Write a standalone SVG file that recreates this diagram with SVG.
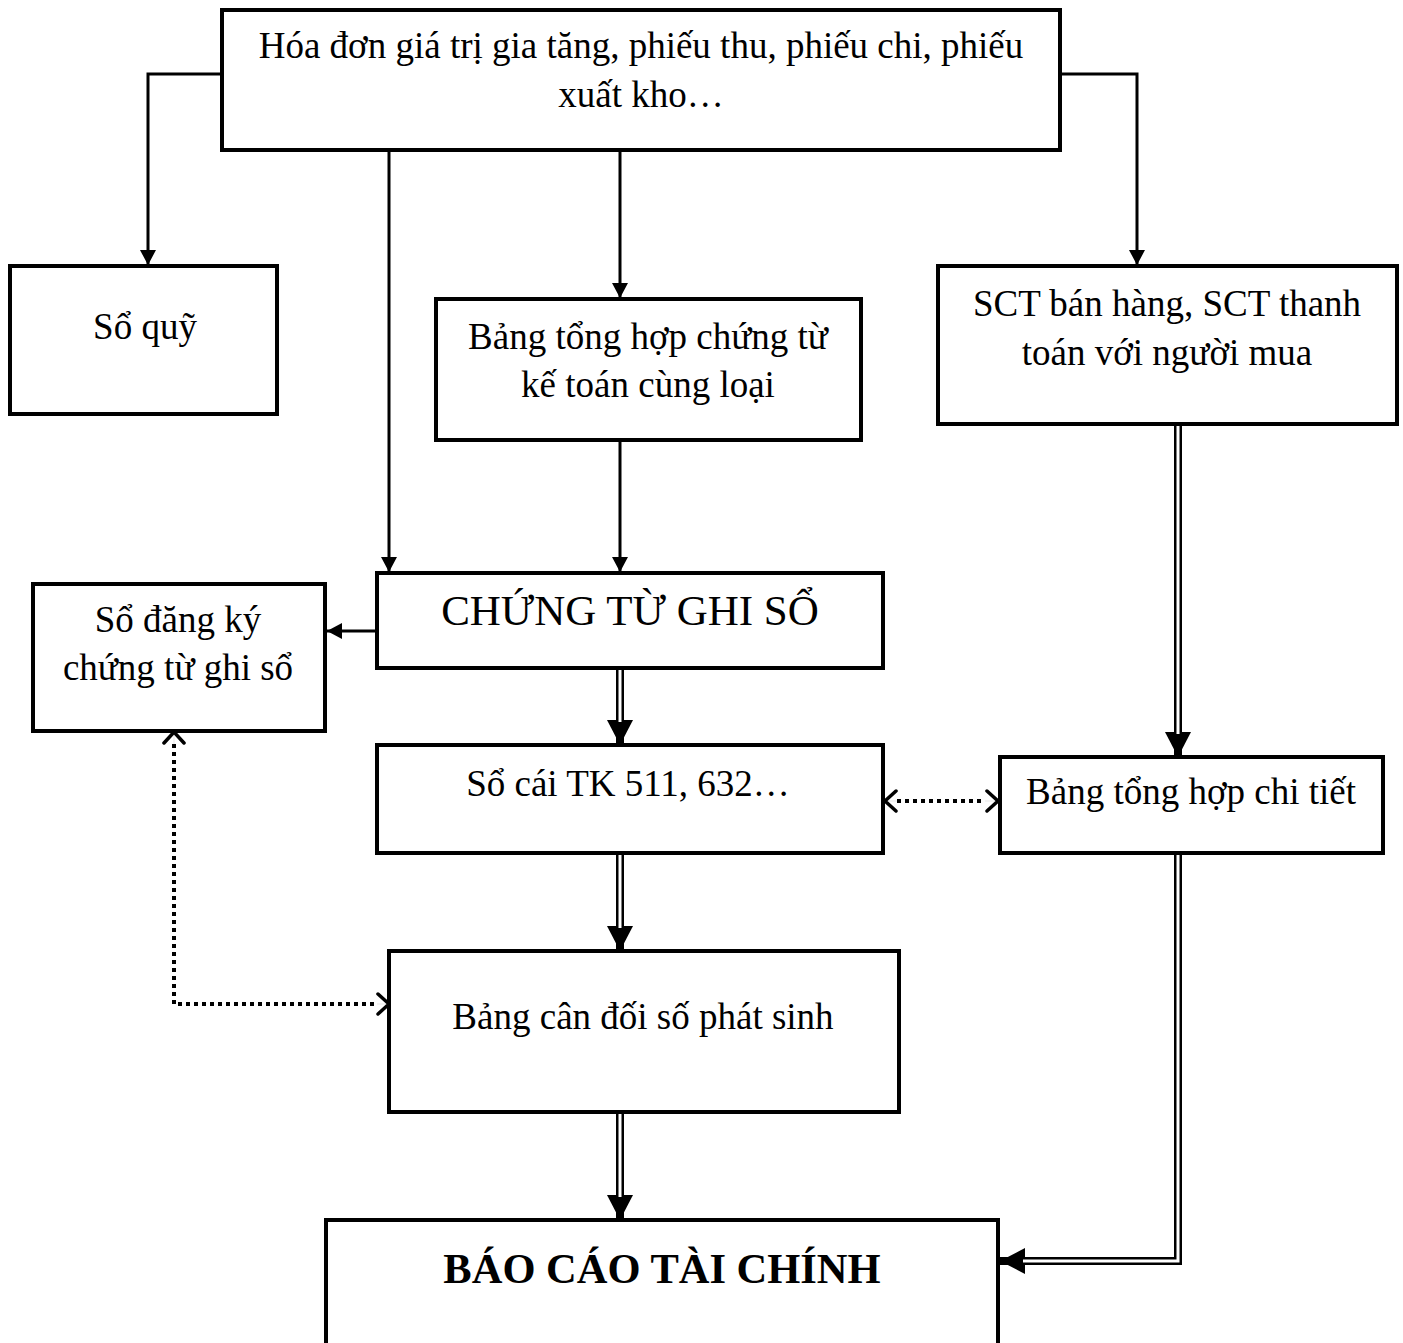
<svg xmlns="http://www.w3.org/2000/svg" width="1403" height="1343" viewBox="0 0 1403 1343">
  <style>
    .box { fill: #fff; stroke: #000; stroke-width: 4; }
    .t { font-family: "Liberation Serif", "Times New Roman", serif; font-size: 37px; fill: #000; text-anchor: middle; }
    .big { font-size: 43px; }
    .bold { font-size: 42.5px; font-weight: bold; }
    .line { fill: none; stroke: #000; stroke-width: 3; }
    .dbl-out { fill: none; stroke: #000; stroke-width: 8; stroke-linejoin: miter; }
    .dbl-in { fill: none; stroke: #fff; stroke-width: 3; stroke-linejoin: miter; }
    .dot { fill: none; stroke: #000; stroke-width: 4; stroke-dasharray: 4 4; }
    .tip { fill: none; stroke: #000; stroke-width: 0.1; }
  </style>
  <defs>
    <marker id="arr" markerUnits="userSpaceOnUse" markerWidth="16" markerHeight="17" refX="15" refY="8.5" orient="auto">
      <path d="M0,0.5 L15,8.5 L0,16.5 Z" fill="#000"/>
    </marker>
    <marker id="arrBig" markerUnits="userSpaceOnUse" markerWidth="26" markerHeight="28" refX="25" refY="14" orient="auto">
      <path d="M0,1 L25,14 L0,27 Z" fill="#000"/>
    </marker>
    <marker id="open" markerUnits="userSpaceOnUse" markerWidth="16" markerHeight="24" refX="13" refY="12" orient="auto">
      <path d="M2,2 L13,12 L2,22" fill="none" stroke="#000" stroke-width="3.5" stroke-linecap="round"/>
    </marker>
  </defs>

  <!-- connectors -->
  <g id="connectors">
    <!-- single-line arrows -->
    <path class="line" d="M222,74 H148 V265" marker-end="url(#arr)"/>
    <path class="line" d="M1060,74 H1137 V265" marker-end="url(#arr)"/>
    <path class="line" d="M389,150 V572" marker-end="url(#arr)"/>
    <path class="line" d="M620,150 V298" marker-end="url(#arr)"/>
    <path class="line" d="M620,440 V572" marker-end="url(#arr)"/>
    <path class="line" d="M377,631 H327" marker-end="url(#arr)"/>

    <!-- double-line arrows -->
    <path class="dbl-out" d="M620,668 V745" marker-end="url(#arrBig)"/>
    <path class="dbl-in" d="M620,666 V722"/>
    <path class="dbl-out" d="M620,853 V951" marker-end="url(#arrBig)"/>
    <path class="dbl-in" d="M620,851 V928"/>
    <path class="dbl-out" d="M620,1112 V1220" marker-end="url(#arrBig)"/>
    <path class="dbl-in" d="M620,1110 V1197"/>
    <path class="dbl-out" d="M1178,424 V757" marker-end="url(#arrBig)"/>
    <path class="dbl-in" d="M1178,422 V734"/>
    <path class="dbl-out" d="M1178,853 V1261 H1000" marker-end="url(#arrBig)"/>
    <path class="dbl-in" d="M1178,851 V1261 H1023"/>

    <!-- dotted two-way arrows -->
    <path class="dot" d="M897,801 H985"/>
    <path class="tip" d="M897,801 H885" marker-end="url(#open)"/>
    <path class="tip" d="M985,801 H998" marker-end="url(#open)"/>
    <path class="dot" d="M174,744 V1004 H377"/>
    <path class="tip" d="M174,744 V732" marker-end="url(#open)"/>
    <path class="tip" d="M377,1004 H389" marker-end="url(#open)"/>
  </g>

  <g id="node-chungtu-goc">
    <rect class="box" x="222" y="10" width="838" height="140"/>
    <text class="t" x="641" y="58">Hóa đơn giá trị gia tăng, phiếu thu, phiếu chi, phiếu</text>
    <text class="t" x="641" y="107">xuất kho…</text>
  </g>

  <g id="node-so-quy">
    <rect class="box" x="10" y="266" width="267" height="148"/>
    <text class="t" x="145" y="339">Sổ quỹ</text>
  </g>

  <g id="node-bang-tong-hop-ct">
    <rect class="box" x="436" y="299" width="425" height="141"/>
    <text class="t" x="648" y="349">Bảng tổng hợp chứng từ</text>
    <text class="t" x="648" y="397">kế toán cùng loại</text>
  </g>

  <g id="node-sct">
    <rect class="box" x="938" y="266" width="459" height="158"/>
    <text class="t" x="1167" y="316">SCT bán hàng, SCT thanh</text>
    <text class="t" x="1167" y="365">toán với người mua</text>
  </g>

  <g id="node-so-dang-ky">
    <rect class="box" x="33" y="584" width="292" height="147"/>
    <text class="t" x="178" y="632">Sổ đăng ký</text>
    <text class="t" x="178" y="680">chứng từ ghi sổ</text>
  </g>

  <g id="node-ctgs">
    <rect class="box" x="377" y="573" width="506" height="95"/>
    <text class="t big" x="630" y="625">CHỨNG TỪ GHI SỔ</text>
  </g>

  <g id="node-so-cai">
    <rect class="box" x="377" y="745" width="506" height="108"/>
    <text class="t" x="628" y="796">Sổ cái TK 511, 632…</text>
  </g>

  <g id="node-bthct">
    <rect class="box" x="1000" y="757" width="383" height="96"/>
    <text class="t" x="1191" y="804">Bảng tổng hợp chi tiết</text>
  </g>

  <g id="node-cdps">
    <rect class="box" x="389" y="951" width="510" height="161"/>
    <text class="t" x="643" y="1029">Bảng cân đối số phát sinh</text>
  </g>

  <g id="node-bctc">
    <rect class="box" x="326" y="1220" width="672" height="140"/>
    <text class="t bold" x="662" y="1283">BÁO CÁO TÀI CHÍNH</text>
  </g>
</svg>
